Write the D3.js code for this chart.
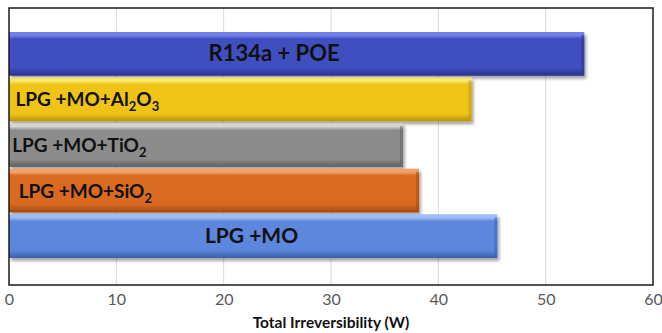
<!DOCTYPE html>
<html>
<head>
<meta charset="utf-8">
<script src="https://cdn.jsdelivr.net/npm/d3@7"></script>
<style>
  body { margin: 0; background: #fff; }
  svg { display: block; }
</style>
</head>
<body>
<svg id="chart" width="662" height="333"></svg>
<script>
// data
var series = ["R134a + POE", "LPG +MO+Al2O3", "LPG +MO+TiO2", "LPG +MO+SiO2", "LPG +MO"];
var values = [53.6, 43.1, 36.7, 38.2, 45.5];
var xTicks = [0, 10, 20, 30, 40, 50, 60];
var xTitle = "Total Irreversibility (W)";

// label text pieces: [text, isSubscript]
var labelParts = [
  [["R134a + POE", false]],
  [["LPG +MO+Al", false], ["2", true], ["O", false], ["3", true]],
  [["LPG +MO+TiO", false], ["2", true]],
  [["LPG +MO+SiO", false], ["2", true]],
  [["LPG +MO", false]]
];
// where the label sits, in axis units, and how it is anchored
var labelAt = [24.7, 0.6, 0.3, 0.9, 22.6];
var labelAnchor = ["middle", "start", "start", "start", "middle"];
var labelSize = [22, 19, 19, 19, 21];

var colors = [
  {base: "#3f4fc0", light: "#6f80e6", dark: "#27318a"},
  {base: "#f0c419", light: "#fbe66a", dark: "#b89208"},
  {base: "#8c8c8c", light: "#d4d4d4", dark: "#5e5e5e"},
  {base: "#d86a22", light: "#f2a266", dark: "#a2460c"},
  {base: "#5b87dc", light: "#9dbcf5", dark: "#3a5fae"}
];

var svg = d3.select("#chart");
var mLeft = 9, mRight = 653, mTop = 8, mBottom = 285;

var x = d3.scaleLinear().domain([0, 60]).range([mLeft, mRight]);
var y = d3.scaleBand().domain(series).range([32, 258]).paddingInner(0.04);

var defs = svg.append("defs");
colors.forEach(function(c, i){
  var g = defs.append("linearGradient")
    .attr("id", "grad" + i)
    .attr("x1", 0).attr("y1", 0).attr("x2", 0).attr("y2", 1);
  g.append("stop").attr("offset", "0%").attr("stop-color", c.light);
  g.append("stop").attr("offset", "8%").attr("stop-color", c.light);
  g.append("stop").attr("offset", "16%").attr("stop-color", c.base);
  g.append("stop").attr("offset", "82%").attr("stop-color", c.base);
  g.append("stop").attr("offset", "100%").attr("stop-color", c.dark);
});

var shadow = defs.append("filter").attr("id", "shadow")
  .attr("x", "-5%").attr("y", "-20%").attr("width", "110%").attr("height", "150%");
shadow.append("feDropShadow")
  .attr("dx", 2).attr("dy", 3).attr("stdDeviation", 1.6)
  .attr("flood-color", "#000").attr("flood-opacity", 0.35);

// gridlines
svg.append("g").selectAll("line")
  .data(xTicks.slice(1, -1))
  .enter().append("line")
  .attr("x1", function(d){ return x(d); })
  .attr("x2", function(d){ return x(d); })
  .attr("y1", mTop).attr("y2", mBottom)
  .attr("stroke", "#d9d9d9").attr("stroke-width", 1);

// bars
var bars = svg.append("g").selectAll("g")
  .data(series)
  .enter().append("g");

bars.append("rect")
  .attr("x", x(0))
  .attr("y", function(d){ return y(d); })
  .attr("width", function(d, i){ return x(values[i]) - x(0); })
  .attr("height", y.bandwidth())
  .attr("fill", function(d, i){ return "url(#grad" + i + ")"; })
  .attr("filter", "url(#shadow)");

// right bevel edge
bars.append("rect")
  .attr("x", function(d, i){ return x(values[i]) - 3; })
  .attr("y", function(d){ return y(d) + 3; })
  .attr("width", 3)
  .attr("height", y.bandwidth() - 6)
  .attr("fill", function(d, i){ return colors[i].dark; })
  .attr("opacity", 0.5);

// labels
bars.append("text")
  .attr("x", function(d, i){ return x(labelAt[i]); })
  .attr("y", function(d){ return y(d) + y.bandwidth() / 2 + 7; })
  .attr("text-anchor", function(d, i){ return labelAnchor[i]; })
  .attr("font-family", "Lato, 'Open Sans', sans-serif")
  .attr("font-weight", "bold")
  .attr("font-size", function(d, i){ return labelSize[i]; })
  .attr("fill", "#111")
  .each(function(d, i){
    var t = d3.select(this);
    labelParts[i].forEach(function(p, k){
      var s = t.append("tspan").text(p[0]);
      if (p[1]) s.attr("font-size", 13).attr("dy", 5);
      else if (k > 0) s.attr("dy", -5);
    });
  });

// plot border
svg.append("rect")
  .attr("x", mLeft).attr("y", mTop)
  .attr("width", mRight - mLeft).attr("height", mBottom - mTop)
  .attr("fill", "none").attr("stroke", "#1a1a1a").attr("stroke-width", 1.5);

// x axis labels
var axis = d3.axisBottom(x).tickValues(xTicks).tickSize(0).tickPadding(9);
var ax = svg.append("g").attr("transform", "translate(0," + mBottom + ")").call(axis);
ax.select(".domain").remove();
ax.selectAll("text")
  .attr("font-family", "Lato, 'Open Sans', sans-serif")
  .attr("font-size", 16)
  .attr("fill", "#595959");

svg.append("text")
  .attr("x", (mLeft + mRight) / 2)
  .attr("y", 328)
  .attr("text-anchor", "middle")
  .attr("font-family", "Lato, 'Open Sans', sans-serif")
  .attr("font-weight", "bold")
  .attr("font-size", 15.5)
  .attr("fill", "#111")
  .text(xTitle);
</script>
</body>
</html>
